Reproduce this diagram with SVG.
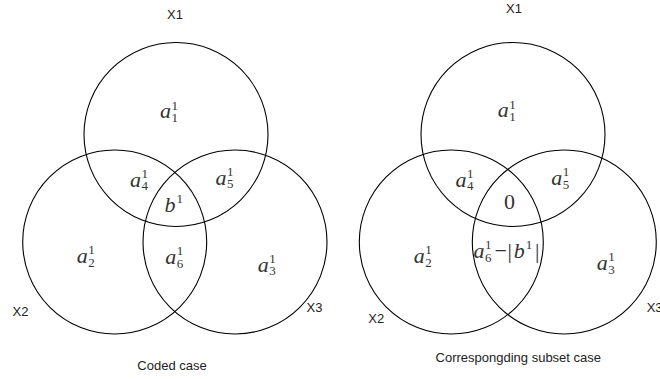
<svg xmlns="http://www.w3.org/2000/svg" width="660" height="379" viewBox="0 0 660 379">
<style>
.c{fill:none;stroke:#000;stroke-width:1.1}
.lab{font-family:"Liberation Sans",Arial,sans-serif;font-size:13px;fill:#222}
.m{font-family:"Liberation Serif","Times New Roman",serif;font-style:italic;font-size:22px;fill:#333}
.i{font-style:normal;font-size:13px}
.u{font-style:normal}
</style>
<rect width="660" height="379" fill="#fff"/>
<g id="left-diagram">
  <g id="L-X1"><circle class="c" cx="176" cy="134.5" r="92"/><text class="lab" x="175" y="18.5" text-anchor="middle">X1</text></g>
  <g id="L-X2"><circle class="c" cx="114.7" cy="242" r="92"/><text class="lab" x="12.5" y="316">X2</text></g>
  <g id="L-X3"><circle class="c" cx="235" cy="242" r="92"/><text class="lab" x="306.5" y="311.5">X3</text></g>
  <g id="L-a1"><text class="m" x="160" y="118.3">a<tspan class="i" x="171.5" dy="-8.8">1</tspan><tspan class="i" x="171.5" dy="12.2">1</tspan></text></g>
  <g id="L-a4"><text class="m" x="130" y="186.7">a<tspan class="i" x="141.5" dy="-8.8">1</tspan><tspan class="i" x="141.5" dy="12.3">4</tspan></text></g>
  <g id="L-a5"><text class="m" x="215.5" y="184.5">a<tspan class="i" x="227" dy="-8.8">1</tspan><tspan class="i" x="227" dy="12.3">5</tspan></text></g>
  <g id="L-b"><text class="m" x="164.5" y="211.7">b<tspan class="i" x="176.5" dy="-9.2">1</tspan></text></g>
  <g id="L-a2"><text class="m" x="76.8" y="263.3">a<tspan class="i" x="88.3" dy="-8.8">1</tspan><tspan class="i" x="88.3" dy="12.3">2</tspan></text></g>
  <g id="L-a6"><text class="m" x="165.2" y="264">a<tspan class="i" x="176.7" dy="-8.8">1</tspan><tspan class="i" x="176.7" dy="12.3">6</tspan></text></g>
  <g id="L-a3"><text class="m" x="257.8" y="271.7">a<tspan class="i" x="269.3" dy="-8.8">1</tspan><tspan class="i" x="269.3" dy="12.3">3</tspan></text></g>
  <text class="lab" x="172" y="370" text-anchor="middle">Coded case</text>
</g>
<g id="right-diagram">
  <g id="R-X1"><circle class="c" cx="513" cy="134.5" r="92"/><text class="lab" x="514" y="13.3" text-anchor="middle">X1</text></g>
  <g id="R-X2"><circle class="c" cx="451.3" cy="242" r="92"/><text class="lab" x="368.3" y="322.7">X2</text></g>
  <g id="R-X3"><circle class="c" cx="564.3" cy="242" r="92"/><text class="lab" x="646.7" y="311.7">X3</text></g>
  <g id="R-a1"><text class="m" x="497.8" y="117.3">a<tspan class="i" x="509.3" dy="-8.8">1</tspan><tspan class="i" x="509.3" dy="12.3">1</tspan></text></g>
  <g id="R-a4"><text class="m" x="455.5" y="186.7">a<tspan class="i" x="467" dy="-8.8">1</tspan><tspan class="i" x="467" dy="12.3">4</tspan></text></g>
  <g id="R-a5"><text class="m" x="551.2" y="185">a<tspan class="i" x="562.7" dy="-8.8">1</tspan><tspan class="i" x="562.7" dy="12.3">5</tspan></text></g>
  <g id="R-zero"><text class="m u" x="504" y="209">0</text></g>
  <g id="R-a6b"><text class="m" x="473.5" y="258.3">a<tspan class="i" x="485" dy="-8.8">1</tspan><tspan class="i" x="485" dy="12.3">6</tspan><tspan class="u" x="494.5" dy="-3.5">−</tspan><tspan class="u" x="507.5">|</tspan><tspan x="513.8">b</tspan><tspan class="i" x="525.8" dy="-9.2">1</tspan><tspan class="u" x="535" dy="9.2">|</tspan></text></g>
  <g id="R-a2"><text class="m" x="413.8" y="263.3">a<tspan class="i" x="425.3" dy="-8.8">1</tspan><tspan class="i" x="425.3" dy="12.3">2</tspan></text></g>
  <g id="R-a3"><text class="m" x="596.8" y="270">a<tspan class="i" x="608.3" dy="-8.8">1</tspan><tspan class="i" x="608.3" dy="12.3">3</tspan></text></g>
  <text class="lab" x="518.3" y="361.7" text-anchor="middle">Correspongding subset case</text>
</g>
</svg>
